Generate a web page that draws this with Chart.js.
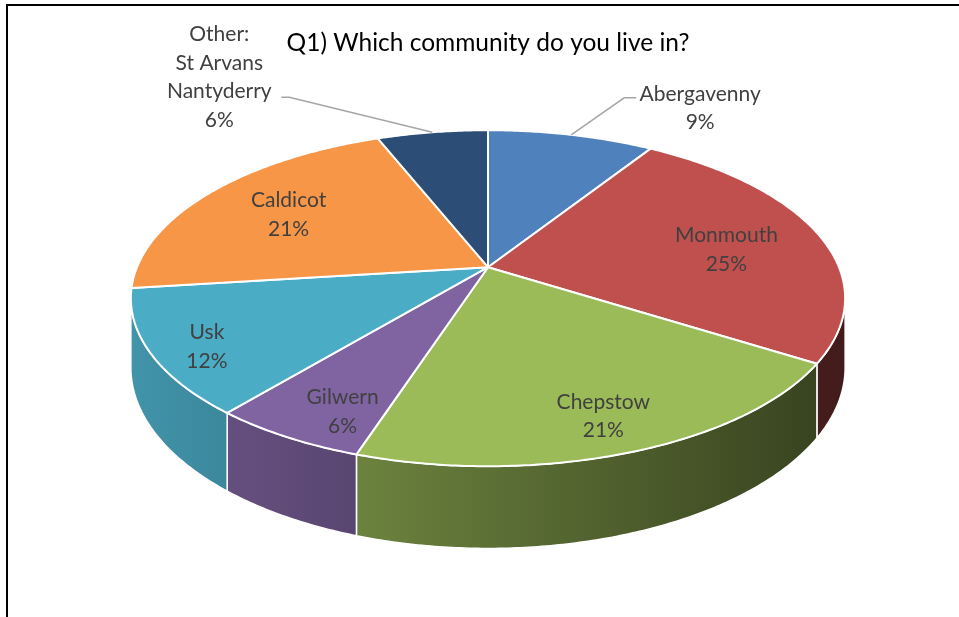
<!DOCTYPE html>
<html>
<head>
<meta charset="utf-8">
<script src="https://cdn.jsdelivr.net/npm/chart.js@4.4.1/dist/chart.umd.min.js"></script>
<style>
  html, body { margin: 0; background: #fff; }
  #frame { position: absolute; left: 6px; top: 4px; right: 0; bottom: 0; border-top: 2px solid #000; border-left: 2px solid #000; }
  #chart { position: absolute; left: 0; top: 0; }
</style>
</head>
<body>
<div id="frame"></div>
<canvas id="chart" width="959" height="617"></canvas>
<script>
const communities = ['Abergavenny', 'Monmouth', 'Chepstow', 'Gilwern', 'Usk', 'Caldicot', ['Other:', 'St Arvans', 'Nantyderry']];
const shares = [9, 25, 21, 6, 12, 21, 6];
const sliceColors = ['#4F81BD', '#C0504D', '#9BBB59', '#8064A2', '#4BACC6', '#F79646', '#2C4D75'];

const FONT = 'Lato, "Noto Sans", sans-serif';
const LINE_GAP = 28.5;

// tilted disc: horizontal / vertical radius, perspective factor, wall height
const VIEW = { rx: 351, ry: 162.3, tilt: -0.1846, depth: 67 };
// the side wall is only visible between the two silhouette points
const FRONT_START = Math.asin(-VIEW.tilt);
const FRONT_END = Math.PI - FRONT_START;

// inside labels sit at this fraction of the radius (plus a small nudge),
// the two thin slices at the back get a leader line instead
const LABEL_RADIUS = [null, 0.71, 0.83, 0.8, 0.87, 0.7, null];
const LABEL_NUDGE = [null, [2, 7], [0, 1], [10, 14], [9, 6], [-1, 2], null];
const LEADERS = {
  0: { elbow: [53, -37], run: 12, text: [64, -4] },
  6: { elbow: [-143, -35], run: -8, text: [-62, -63] }
};

function project(cx, cy, angle, r, drop) {
  const u = Math.cos(angle) * r, v = Math.sin(angle) * r;
  const w = 1 + VIEW.tilt * v;
  return { x: cx + VIEW.rx * u / w, y: cy + (VIEW.ry * v + drop) / w };
}

function rim(cx, cy, from, to, drop) {
  const steps = Math.max(2, Math.ceil((to - from) / 0.01));
  const pts = [];
  for (let k = 0; k <= steps; k++) pts.push(project(cx, cy, from + (to - from) * k / steps, 1, drop));
  return pts;
}

function shade(hex, f) {
  const n = parseInt(hex.slice(1), 16);
  const c = [(n >> 16) & 255, (n >> 8) & 255, n & 255].map(v => Math.round(v * f));
  return `rgb(${c.join(',')})`;
}

class Arc3D extends Chart.ArcElement {
  static id = 'arc3d';

  draw(ctx) {
    const { x, y, startAngle, endAngle } = this;
    const { backgroundColor, borderColor, borderWidth } = this.options;
    const from = Math.max(startAngle, FRONT_START);
    const to = Math.min(endAngle, FRONT_END);
    ctx.save();
    ctx.lineJoin = 'round';
    ctx.strokeStyle = borderColor;

    if (to > from) {
      const wall = rim(x, y, from, to, 0).concat(rim(x, y, from, to, VIEW.depth).reverse());
      ctx.beginPath();
      wall.forEach((p, k) => k ? ctx.lineTo(p.x, p.y) : ctx.moveTo(p.x, p.y));
      ctx.closePath();
      const half = VIEW.rx * 1.02;
      const g = ctx.createLinearGradient(x - half, 0, x + half, 0);
      g.addColorStop(0, shade(backgroundColor, 0.86));
      g.addColorStop(1, shade(backgroundColor, 0.34));
      ctx.fillStyle = g;
      ctx.fill();
      ctx.lineWidth = 1.5;
      ctx.stroke();
    }

    ctx.beginPath();
    ctx.moveTo(x, y);
    rim(x, y, startAngle, endAngle, 0).forEach(p => ctx.lineTo(p.x, p.y));
    ctx.closePath();
    ctx.fillStyle = backgroundColor;
    ctx.fill();
    ctx.lineWidth = borderWidth;
    ctx.stroke();
    ctx.restore();
  }
}

class Pie3DController extends Chart.PieController {
  static id = 'pie3d';
  static defaults = { ...Chart.PieController.defaults, dataElementType: 'arc3d' };
}

Chart.register(Arc3D, Pie3DController);

const sliceLabels = {
  id: 'sliceLabels',
  afterDatasetsDraw(chart) {
    const meta = chart.getDatasetMeta(0);
    const values = chart.data.datasets[0].data;
    const total = values.reduce((a, b) => a + b, 0);
    const ctx = chart.ctx;
    ctx.save();
    ctx.font = `21px ${FONT}`;
    ctx.textAlign = 'center';
    ctx.textBaseline = 'middle';

    meta.data.forEach((arc, i) => {
      const mid = (arc.startAngle + arc.endAngle) / 2;
      const lines = [].concat(chart.data.labels[i], Math.round(values[i] / total * 100) + '%');
      const leader = LEADERS[i];
      let cx, top;
      if (leader) {
        const p = project(arc.x, arc.y, mid, 1, 0);
        const elbow = { x: p.x + leader.elbow[0], y: p.y + leader.elbow[1] };
        const end = { x: elbow.x + leader.run, y: elbow.y };
        ctx.strokeStyle = '#A6A6A6';
        ctx.lineWidth = 1.5;
        ctx.beginPath();
        ctx.moveTo(p.x, p.y);
        ctx.lineTo(elbow.x, elbow.y);
        ctx.lineTo(end.x, end.y);
        ctx.stroke();
        cx = end.x + leader.text[0];
        top = end.y + leader.text[1];
      } else {
        const p = project(arc.x, arc.y, mid, LABEL_RADIUS[i], 0);
        cx = p.x + LABEL_NUDGE[i][0];
        top = p.y + LABEL_NUDGE[i][1] - (lines.length - 1) * LINE_GAP / 2;
      }
      ctx.fillStyle = '#404040';
      lines.forEach((t, j) => ctx.fillText(t, cx, top + j * LINE_GAP));
    });
    ctx.restore();
  }
};

new Chart(document.getElementById('chart'), {
  type: 'pie3d',
  data: {
    labels: communities,
    datasets: [{
      data: shares,
      backgroundColor: sliceColors,
      borderColor: '#FFFFFF',
      borderWidth: 2
    }]
  },
  options: {
    responsive: false,
    animation: false,
    events: [],
    layout: { padding: { left: 17, right: 0, top: 0, bottom: 150 } },
    plugins: {
      legend: { display: false },
      tooltip: { enabled: false },
      title: {
        display: true,
        text: 'Q1) Which community do you live in?',
        color: '#000000',
        font: { family: FONT, size: 24.5, weight: 'normal', lineHeight: 1.2 },
        padding: { top: 28, bottom: 10 }
      }
    }
  },
  plugins: [sliceLabels]
});
</script>
</body>
</html>
